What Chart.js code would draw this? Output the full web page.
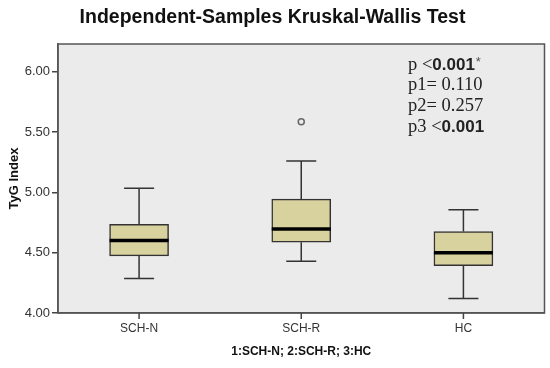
<!DOCTYPE html>
<html>
<head>
<meta charset="utf-8">
<script src="https://cdn.jsdelivr.net/npm/chart.js@4/dist/chart.umd.min.js"></script>
<style>
  html, body { margin:0; padding:0; background:#fff; }
  #wrap { width:550px; height:368px; }
</style>
</head>
<body>
<div id="wrap"><canvas id="c" width="550" height="368"></canvas></div>
<script>
  // Data
  const groups   = ['SCH-N', 'SCH-R', 'HC']
  const whiskLo  = [4.285, 4.43, 4.12]
  const q1       = [4.473, 4.587, 4.393]
  const medians  = [4.60, 4.697, 4.50]
  const q3       = [4.736, 4.944, 4.675]
  const whiskHi  = [5.035, 5.26, 4.855]
  const outliers = [null, 5.585, null]
  const yTicks   = [4.0, 4.5, 5.0, 5.5, 6.0]
  // p-value annotation: [serif prefix, bold part, suffix]
  const pLines = [
    ['p <', '0.001', '*'],
    ['p1= 0.110', '', ''],
    ['p2= 0.257', '', ''],
    ['p3 <', '0.001', '']
  ]

  const boxFill = '#d8d29f'
  const lineCol = '#333333'

  // plot background + frame + x tick marks at the category centres
  const frame = {
    id: 'frame',
    beforeDraw(chart){
      const {ctx, chartArea:a} = chart
      ctx.save()
      ctx.fillStyle = '#ebebeb'
      ctx.fillRect(a.left, a.top, a.right-a.left, a.bottom-a.top)
      ctx.restore()
    },
    afterDraw(chart){
      const {ctx, chartArea:a} = chart
      const x = chart.scales.x
      ctx.save()
      ctx.strokeStyle = '#555'
      ctx.lineWidth = 1.5
      ctx.strokeRect(a.left, a.top, a.right-a.left, a.bottom-a.top)
      ctx.fillStyle = '#444'
      for(let i = 0; i < groups.length; i++){
        const px = x.getPixelForValue(i)
        ctx.fillRect(px - 0.75, a.bottom, 1.5, 6)
      }
      ctx.restore()
    }
  }

  // whiskers under the boxes, medians on top
  const boxParts = {
    id: 'boxParts',
    beforeDatasetsDraw(chart){
      const {ctx, scales:{x, y}} = chart
      ctx.save()
      ctx.strokeStyle = lineCol
      ctx.lineWidth = 1.5
      groups.forEach((g,i)=>{
        const cx = x.getPixelForValue(i)
        const half = 15
        ctx.beginPath()
        ctx.moveTo(cx, y.getPixelForValue(whiskLo[i])); ctx.lineTo(cx, y.getPixelForValue(q1[i]))
        ctx.moveTo(cx, y.getPixelForValue(q3[i])); ctx.lineTo(cx, y.getPixelForValue(whiskHi[i]))
        ctx.moveTo(cx-half, y.getPixelForValue(whiskLo[i])); ctx.lineTo(cx+half, y.getPixelForValue(whiskLo[i]))
        ctx.moveTo(cx-half, y.getPixelForValue(whiskHi[i])); ctx.lineTo(cx+half, y.getPixelForValue(whiskHi[i]))
        ctx.stroke()
      })
      ctx.restore()
    },
    afterDatasetsDraw(chart){
      const {ctx, scales:{y}} = chart
      const bars = chart.getDatasetMeta(0).data
      ctx.save()
      ctx.strokeStyle = '#000'
      ctx.lineWidth = 3.5
      bars.forEach((b,i)=>{
        const yy = y.getPixelForValue(medians[i])
        ctx.beginPath()
        ctx.moveTo(b.x - b.width/2, yy); ctx.lineTo(b.x + b.width/2, yy)
        ctx.stroke()
      })
      ctx.restore()
    }
  }

  const pText = {
    id: 'pText',
    afterDraw(chart){
      const {ctx, chartArea:a} = chart
      ctx.save()
      ctx.textBaseline = 'alphabetic'
      ctx.fillStyle = '#222'
      let yy = a.top + 25.5
      pLines.forEach(parts=>{
        let xx = a.left + 350
        ctx.font = '18.5px "Liberation Serif", "Times New Roman", serif'
        ctx.fillText(parts[0], xx, yy); xx += ctx.measureText(parts[0]).width
        if(parts[1]){
          ctx.font = 'bold 17px "Liberation Sans", Arial, sans-serif'
          ctx.fillText(parts[1], xx, yy); xx += ctx.measureText(parts[1]).width + 1
        }
        if(parts[2]){
          ctx.font = '13px "Liberation Sans", Arial, sans-serif'
          ctx.fillStyle = '#555'
          ctx.fillText(parts[2], xx, yy - 4)
          ctx.fillStyle = '#222'
        }
        yy += 20.7
      })
      ctx.restore()
    }
  }

  new Chart(document.getElementById('c').getContext('2d'), {
    type: 'bar',
    data: {
      labels: groups,
      datasets: [
        {
          label: 'IQR',
          data: groups.map((g,i)=>[q1[i], q3[i]]),
          backgroundColor: boxFill,
          borderColor: lineCol,
          borderWidth: 1.5,
          borderSkipped: false,
          barThickness: 59
        },
        {
          type: 'line',
          label: 'Outliers',
          data: outliers,
          showLine: false,
          pointStyle: 'circle',
          pointRadius: 3,
          pointBorderWidth: 1.5,
          pointBorderColor: '#666',
          pointBackgroundColor: '#ebebeb'
        }
      ]
    },
    plugins: [frame, boxParts, pText],
    options: {
      responsive: false,
      animation: false,
      layout: { padding: { left: 0, right: 5, top: 0, bottom: 9 } },
      plugins: {
        legend: { display: false },
        tooltip: { enabled: false },
        title: {
          display: true,
          text: 'Independent-Samples Kruskal-Wallis Test',
          color: '#111',
          font: { family: '"Liberation Sans", Arial, sans-serif', size: 19.5, weight: 'bold' },
          padding: { top: 6, bottom: 14.6 }
        }
      },
      scales: {
        x: {
          offset: true,
          grid: { display: true, drawOnChartArea: false, drawTicks: true, tickLength: 6, color: 'rgba(0,0,0,0)' },
          border: { display: true, color: '#555', width: 1.5 },
          ticks: { color: '#333', padding: 2, font: { family: '"Liberation Sans", Arial, sans-serif', size: 12 } },
          title: {
            display: true,
            text: '1:SCH-N; 2:SCH-R; 3:HC',
            color: '#111',
            font: { family: '"Liberation Sans", Arial, sans-serif', size: 12, weight: 'bold' },
            padding: { top: 6, bottom: 0 }
          },
          afterFit(s){ s.height = 46 }
        },
        y: {
          min: 4,
          max: 6.23,
          grid: { display: true, drawOnChartArea: false, drawTicks: true, tickLength: 6, color: '#444', lineWidth: 1.5 },
          border: { display: true, color: '#555', width: 1.5 },
          afterBuildTicks(s){ s.ticks = yTicks.map(v=>({value:v})) },
          ticks: {
            color: '#333',
            padding: 2,
            font: { family: '"Liberation Sans", Arial, sans-serif', size: 13 },
            callback: v => Number(v).toFixed(2)
          },
          title: {
            display: true,
            text: 'TyG Index',
            color: '#111',
            font: { family: '"Liberation Sans", Arial, sans-serif', size: 13, weight: 'bold' },
            padding: { top: 7, bottom: 4 }
          },
          afterFit(s){ s.width = 58 }
        }
      }
    }
  })
</script>
</body>
</html>
